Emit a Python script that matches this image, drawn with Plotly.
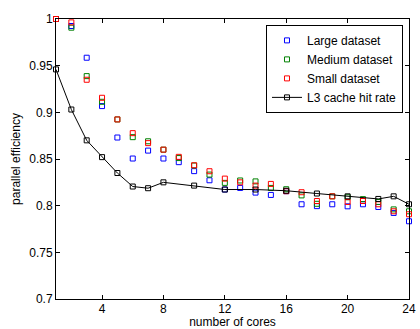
import plotly.graph_objects as go

cores = list(range(1, 25))
large = [1.0, 0.9925, 0.9585, 0.9067, 0.873, 0.8505, 0.859, 0.8505, 0.8466, 0.837,
         0.8272, 0.8173, 0.819, 0.814, 0.8115, 0.8155, 0.8015, 0.7995, 0.8015, 0.7993,
         0.8015, 0.7986, 0.7922, 0.7833]
medium = [1.0, 0.9907, 0.9388, 0.9113, 0.8924, 0.8734, 0.869, 0.860, 0.851, 0.843,
          0.8333, 0.8244, 0.827, 0.826, 0.819, 0.8176, 0.811, 0.802, 0.810, 0.809,
          0.807, 0.804, 0.796, 0.794]
small = [1.0, 0.9964, 0.9349, 0.9156, 0.8924, 0.8777, 0.867, 0.860, 0.8523, 0.8433,
         0.8369, 0.829, 0.825, 0.8215, 0.8233, 0.8155, 0.8144, 0.805, 0.810, 0.804,
         0.805, 0.8015, 0.794, 0.7908]
l3_cores = [1, 2, 3, 4, 5, 6, 7, 8, 10, 12, 14, 16, 18, 20, 22, 23, 24]
l3_rate = [0.946, 0.903, 0.870, 0.852, 0.835, 0.8205, 0.8187, 0.825, 0.8215, 0.8173,
           0.8173, 0.816, 0.813, 0.810, 0.8072, 0.810, 0.8015]

x_ticks = [4, 8, 12, 16, 20, 24]
y_ticks = [0.7, 0.75, 0.8, 0.85, 0.9, 0.95, 1.0]
y_tick_text = ["0.7", "0.75", "0.8", "0.85", "0.9", "0.95", "1"]

FONT = "Liberation Sans, Arial, Helvetica, sans-serif"

fig = go.Figure()
for name, vals, col in [("Large dataset", large, "#0000ff"),
                        ("Medium dataset", medium, "#008000"),
                        ("Small dataset", small, "#ff0000")]:
    fig.add_trace(go.Scatter(x=cores, y=vals, mode="markers", name=name,
                             cliponaxis=False,
                             marker=dict(symbol="square-open", size=5, color=col,
                                         line=dict(width=1, color=col))))
fig.add_trace(go.Scatter(x=l3_cores, y=l3_rate, mode="lines+markers",
                         name="L3 cache hit rate", cliponaxis=False,
                         line=dict(color="black", width=1),
                         marker=dict(symbol="square-open", size=5, color="black",
                                     line=dict(width=1, color="black"))))

axis_common = dict(showline=True, linecolor="black", linewidth=1, mirror="allticks",
                   ticks="inside", ticklen=4, tickwidth=1, tickcolor="black",
                   showgrid=False, zeroline=False, ticklabeloverflow="allow",
                   automargin=False,
                   tickfont=dict(family=FONT, size=12, color="black"))

fig.update_xaxes(range=[1, 24], tickvals=x_ticks, ticklabelstandoff=-1,
                 title=dict(text="number of cores", standoff=3,
                            font=dict(family=FONT, size=12, color="black")),
                 **axis_common)
fig.update_yaxes(range=[0.7, 1.0], tickvals=y_ticks, ticktext=y_tick_text,
                 title=dict(text="parallel efficiency", standoff=6,
                            font=dict(family=FONT, size=12, color="black")),
                 **axis_common)

fig.update_layout(
    width=420, height=329,
    margin=dict(l=55.5, r=10.5, t=19, b=30.3),
    paper_bgcolor="white", plot_bgcolor="white",
    font=dict(family=FONT, size=12, color="black"),
    legend=dict(x=0.983, y=0.979, xanchor="right", yanchor="top",
                bgcolor="white", bordercolor="black", borderwidth=1,
                font=dict(family=FONT, size=12, color="black"),
                itemwidth=30, tracegroupgap=0),
    showlegend=True,
)

fig.write_html("out.html",
               config={"displayModeBar": False},
               post_script="document.body.style.margin='0px';"
                           "document.body.style.overflow='hidden';")
